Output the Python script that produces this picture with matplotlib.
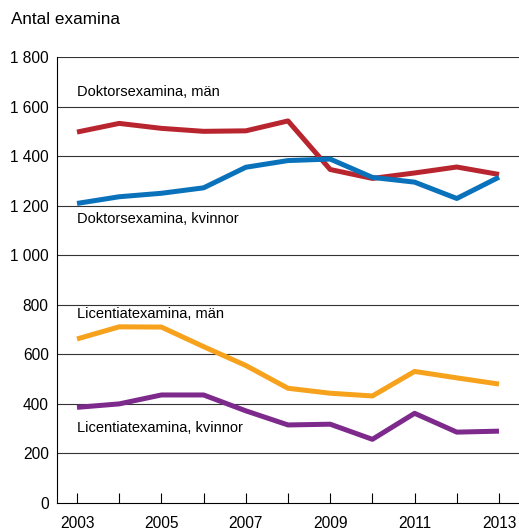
import matplotlib
matplotlib.use("Agg")
import matplotlib.pyplot as plt
from matplotlib.ticker import FuncFormatter

# %% Data
years = [2003, 2004, 2005, 2006, 2007, 2008, 2009, 2010, 2011, 2012, 2013]
dr_man = [1497, 1532, 1512, 1500, 1502, 1542, 1346, 1310, 1332, 1356, 1326]
dr_kvinnor = [1209, 1236, 1250, 1272, 1355, 1382, 1388, 1314, 1295, 1229, 1315]
lic_man = [662, 711, 710, 631, 555, 463, 443, 432, 531, 505, 480]
lic_kvinnor = [386, 400, 436, 436, 372, 315, 318, 257, 362, 286, 290]

y_ticks = [0, 200, 400, 600, 800, 1000, 1200, 1400, 1600, 1800]
x_ticklabels = [2003, 2005, 2007, 2009, 2011, 2013]

plt.rcParams['font.family'] = ['Liberation Sans', 'DejaVu Sans']

# %% Plot
W, H = 519, 529
fig = plt.figure(figsize=(W / 100, H / 100), dpi=100)
ax = fig.add_axes([57 / W, (H - 503) / H, (W - 57) / W, (503 - 57) / H])

for yv in y_ticks[1:]:
    ax.axhline(yv, color='#333333', lw=0.8, zorder=1)

lw = 3.6
ax.plot(years, dr_man, color='#B8252F', lw=lw, solid_capstyle='butt', zorder=3)
ax.plot(years, dr_kvinnor, color='#0A72BA', lw=lw, solid_capstyle='butt', zorder=3)
ax.plot(years, lic_man, color='#F6A21C', lw=lw, solid_capstyle='butt', zorder=3)
ax.plot(years, lic_kvinnor, color='#7D2A8C', lw=lw, solid_capstyle='butt', zorder=3)

fs = 10.5
ax.text(2003, 1658, 'Doktorsexamina, män', fontsize=fs, va='center', ha='left')
ax.text(2003, 1148, 'Doktorsexamina, kvinnor', fontsize=fs, va='center', ha='left')
ax.text(2003, 763, 'Licentiatexamina, män', fontsize=fs, va='center', ha='left')
ax.text(2003, 302, 'Licentiatexamina, kvinnor', fontsize=fs, va='center', ha='left')

ax.set_xlim(2002.526, 2013.474)
ax.set_ylim(0, 1800)
ax.set_yticks(y_ticks)
ax.yaxis.set_major_formatter(FuncFormatter(lambda v, p: f"{int(v):,}".replace(',', ' ')))
ax.set_xticks(years)
ax.set_xticklabels([str(y) if y in x_ticklabels else '' for y in years])

ax.tick_params(axis='y', length=0, pad=6, labelsize=fs + 0.7)
ax.tick_params(axis='x', direction='in', length=7.5, width=0.8, pad=9, labelsize=fs + 0.7)

for s in ['top', 'right']:
    ax.spines[s].set_visible(False)
ax.spines['left'].set_linewidth(0.8)
ax.spines['bottom'].set_linewidth(0.8)

fig.text(11 / W, 1 - 20 / H, 'Antal examina', fontsize=fs + 1.8, va='center', ha='left')

fig.savefig('out.png', dpi=100)
